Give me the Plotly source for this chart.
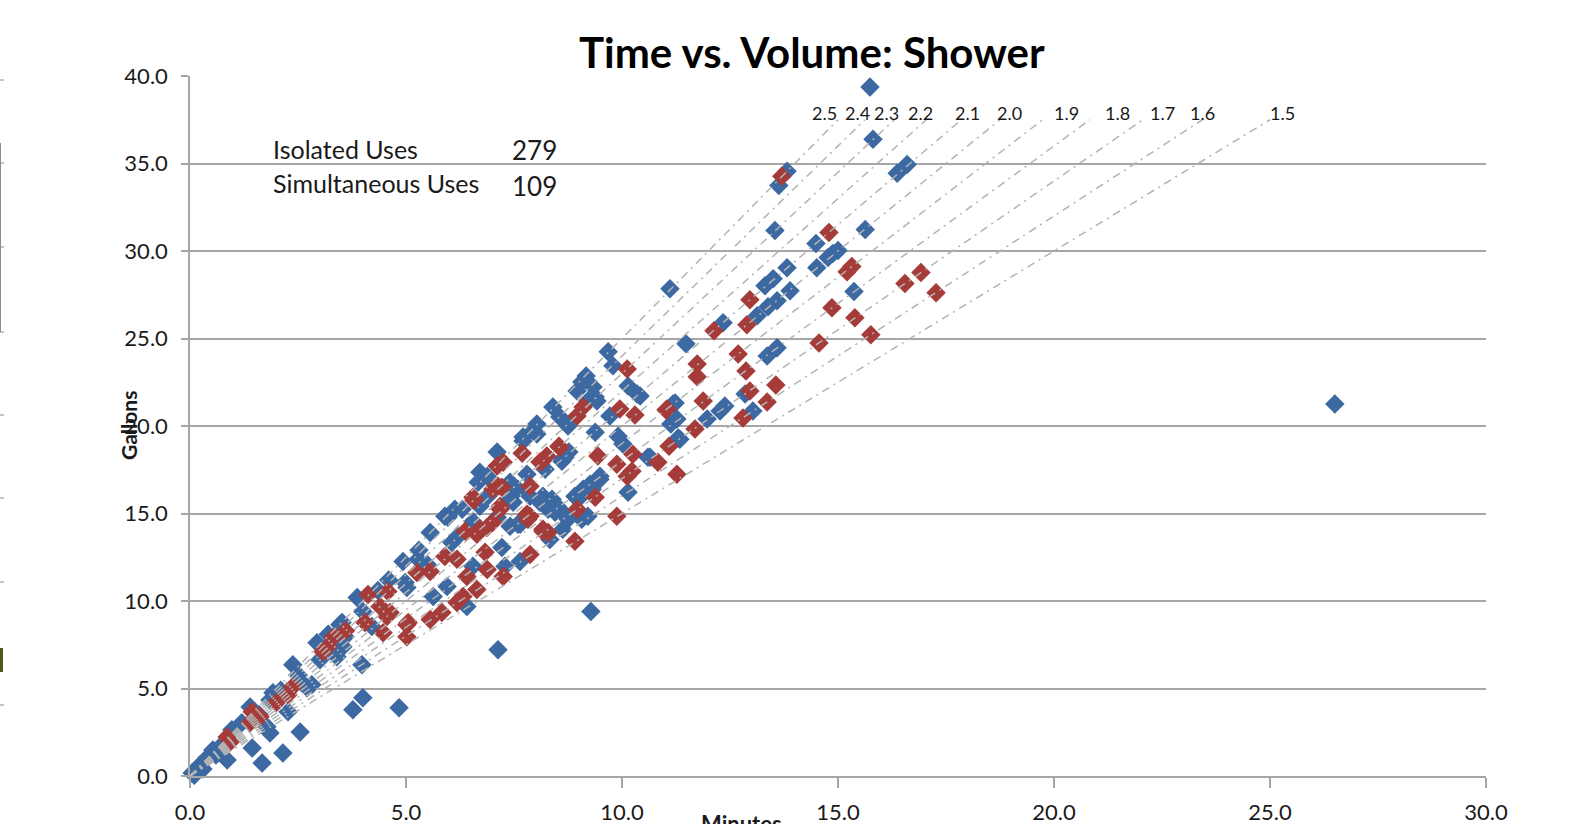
import plotly.graph_objects as go

# ---------------- data (minutes, gallons) ----------------
isolated_uses = [
    (15.74, 39.37), (15.81, 36.39), (13.82, 34.56), (13.63, 33.75), (16.60, 34.95), (16.37, 34.44),
    (13.54, 31.17), (15.63, 31.23), (14.49, 30.43), (14.88, 29.86), (15.00, 30.03), (14.77, 29.63),
    (14.51, 29.05), (13.82, 29.05), (13.50, 28.42), (13.31, 28.02), (13.89, 27.73), (15.37, 27.68),
    (13.59, 27.16), (13.38, 26.82), (13.13, 26.30), (12.34, 25.90), (11.48, 24.70), (13.59, 24.47),
    (13.36, 24.00), (12.85, 21.83), (11.23, 21.32), (11.27, 20.40), (11.13, 20.11), (12.38, 21.14),
    (12.27, 20.86), (11.97, 20.40), (13.03, 20.86), (11.30, 19.31), (10.60, 18.22), (10.42, 21.72),
    (11.11, 27.85), (9.68, 24.24), (9.79, 23.44), (9.17, 22.86), (9.07, 22.52), (8.96, 22.00),
    (9.33, 22.23), (9.38, 21.66), (10.14, 22.29), (10.35, 21.83), (8.40, 21.09), (8.56, 20.51),
    (8.75, 20.00), (9.72, 20.57), (11.18, 21.26), (8.03, 20.11), (7.94, 19.71), (7.71, 19.37),
    (9.38, 19.65), (9.91, 19.42), (10.02, 18.97), (8.77, 18.51), (8.61, 17.99), (7.11, 18.51),
    (10.65, 18.22), (11.34, 19.25), (9.49, 17.13), (9.26, 16.67), (10.14, 16.22), (9.10, 16.39),
    (8.56, 15.24), (8.75, 14.67), (9.07, 14.67), (6.71, 17.36), (7.41, 16.56), (7.80, 17.25),
    (7.87, 15.99), (7.48, 15.64), (8.10, 15.64), (8.38, 15.81), (7.64, 14.38), (8.45, 15.07),
    (8.63, 14.10), (7.71, 19.14), (8.03, 19.54), (8.63, 18.11), (6.88, 17.13), (7.41, 16.79),
    (6.71, 15.41), (7.41, 15.81), (8.17, 15.99), (8.50, 15.41), (8.98, 15.81), (5.97, 14.78),
    (6.30, 15.24), (5.56, 13.92), (6.55, 14.55), (7.11, 14.78), (7.59, 14.38), (8.33, 13.52),
    (6.06, 13.35), (7.22, 13.06), (4.93, 12.26), (5.28, 12.38), (5.49, 12.09), (4.98, 11.06),
    (6.55, 11.98), (7.29, 11.98), (7.64, 12.26), (5.95, 10.83), (6.41, 9.68), (5.63, 10.26),
    (3.87, 10.20), (4.00, 9.40), (3.52, 8.77), (5.02, 10.77), (4.21, 8.54), (3.47, 8.65),
    (3.59, 7.96), (2.94, 7.62), (3.01, 6.65), (3.40, 6.82), (3.54, 7.39), (3.98, 6.36),
    (2.38, 6.36), (2.50, 5.79), (2.59, 5.33), (2.71, 5.04), (2.82, 5.21), (1.92, 4.76),
    (1.85, 4.35), (2.27, 3.67), (1.39, 3.95), (1.20, 3.04), (1.78, 2.81), (0.97, 2.64),
    (0.74, 1.78), (0.53, 1.49), (0.86, 0.92), (0.39, 1.03), (0.23, 0.63), (0.05, 0.17),
    (0.10, 0.05), (1.44, 1.60), (1.67, 0.74), (2.15, 1.32), (2.55, 2.52), (1.85, 2.46),
    (3.77, 3.78), (4.00, 4.47), (4.84, 3.90), (7.13, 7.22), (9.28, 9.40), (26.50, 21.26),
    (9.21, 21.43), (9.42, 21.43), (8.68, 18.22), (8.22, 17.53), (9.49, 16.96), (9.31, 16.39),
    (6.67, 16.79), (5.90, 14.84), (6.13, 15.24), (7.59, 16.39), (7.41, 14.27), (8.91, 15.99),
    (9.21, 14.84), (8.29, 15.24), (3.20, 8.10), (4.60, 11.20), (4.35, 10.60), (2.10, 4.90),
    (1.60, 3.50), (0.60, 1.20), (0.30, 0.40), (5.30, 12.90), (6.20, 13.70), (6.90, 16.00),
]

simultaneous_uses = [
    (13.70, 34.27), (14.79, 31.06), (15.21, 28.82), (15.32, 29.11), (16.55, 28.14), (16.92, 28.77),
    (17.27, 27.62), (12.96, 27.22), (14.86, 26.76), (12.89, 25.79), (12.13, 25.44), (15.39, 26.19),
    (15.76, 25.21), (14.56, 24.75), (12.69, 24.12), (11.74, 23.55), (11.74, 22.81), (12.87, 23.15),
    (13.56, 22.35), (12.96, 22.00), (13.36, 21.37), (11.88, 21.43), (11.02, 20.91), (11.69, 19.83),
    (12.80, 20.46), (11.09, 18.85), (10.83, 17.93), (11.27, 17.25), (10.12, 23.26), (9.10, 21.09),
    (8.96, 20.57), (9.95, 20.97), (10.30, 20.63), (11.04, 20.97), (8.54, 18.85), (7.69, 18.45),
    (8.15, 17.99), (8.26, 18.28), (9.44, 18.28), (9.88, 17.82), (10.25, 18.39), (10.23, 17.42),
    (10.12, 17.13), (9.38, 15.93), (8.96, 15.24), (9.88, 14.84), (8.91, 13.41), (7.11, 17.71),
    (7.01, 16.39), (7.87, 16.56), (7.18, 15.24), (7.87, 14.84), (8.17, 14.10), (8.29, 13.92),
    (7.25, 17.93), (8.56, 18.79), (7.13, 16.56), (6.57, 15.76), (7.18, 15.41), (6.37, 13.98),
    (6.64, 13.81), (6.88, 14.21), (7.80, 14.96), (8.17, 13.98), (5.90, 12.55), (6.18, 12.38),
    (6.83, 12.78), (7.87, 12.66), (5.25, 11.63), (5.56, 11.69), (6.41, 11.40), (6.88, 11.80),
    (7.25, 11.40), (6.32, 10.26), (6.64, 10.66), (6.18, 9.91), (5.83, 9.34), (5.56, 8.94),
    (4.12, 10.37), (4.58, 10.54), (4.40, 9.68), (4.56, 9.11), (4.05, 8.77), (5.05, 8.77),
    (4.63, 9.34), (4.47, 8.19), (5.02, 8.65), (5.02, 7.96), (3.31, 7.91), (3.08, 7.11),
    (3.19, 7.39), (2.38, 5.10), (2.27, 4.64), (1.44, 3.67), (1.62, 3.38), (1.39, 3.04),
    (0.86, 2.23), (0.93, 1.95), (8.10, 17.94), (7.22, 16.50), (6.55, 15.93), (7.82, 14.67),
    (6.71, 14.10), (7.01, 14.50), (3.60, 8.30), (2.00, 4.20),
]

isolated_count = 279
simultaneous_count = 109

rate_lines = [2.5, 2.4, 2.3, 2.2, 2.1, 2.0, 1.9, 1.8, 1.7, 1.6, 1.5]   # gallons per minute
rate_line_top = 37.5                                                   # gallons at the top of each line
rate_label_minutes = [14.68, 15.44, 16.13, 16.90, 17.99, 18.98, 20.28, 21.46, 22.52, 23.43, 25.30]
rate_label_gallons = 37.9

x_ticks = [0, 5, 10, 15, 20, 25, 30]
y_ticks = [0, 5, 10, 15, 20, 25, 30, 35, 40]

# ---------------- styling ----------------
FONT = "Lato"
BLUE = "#3C69A2"
RED = "#A53C3A"
GRID = "#A6A6A6"
TXT = "#1a1a1a"

W, H = 1570, 824
ML, MR, MT, MB = 190, 84, 76, 48
PW, PH = W - ML - MR, H - MT - MB


def px(xp):
    return (xp - ML) / PW


def py(yp):
    return (H - MB - yp) / PH


fig = go.Figure()

fig.add_trace(go.Scatter(
    x=[p[0] for p in isolated_uses], y=[p[1] for p in isolated_uses],
    mode="markers", name="Isolated",
    marker=dict(symbol="diamond", size=15, color=BLUE, line=dict(width=0)),
    cliponaxis=False, showlegend=False,
))
fig.add_trace(go.Scatter(
    x=[p[0] for p in simultaneous_uses], y=[p[1] for p in simultaneous_uses],
    mode="markers", name="Simultaneous",
    marker=dict(symbol="diamond", size=15, color=RED, line=dict(width=0)),
    cliponaxis=False, showlegend=False,
))

for r in rate_lines:
    fig.add_trace(go.Scatter(
        x=[0, rate_line_top / r], y=[0, rate_line_top],
        mode="lines", line=dict(color="#B3B3B3", width=1.5, dash="8px,5px,2px,5px"),
        showlegend=False, hoverinfo="skip",
    ))

annotations = []
for r, lx in zip(rate_lines, rate_label_minutes):
    annotations.append(dict(
        x=lx, y=rate_label_gallons, xref="x", yref="y", text=f"{r:.1f}",
        showarrow=False, font=dict(family=FONT, size=18, color=TXT),
        xanchor="center", yanchor="middle",
    ))

annotations += [
    dict(x=px(812), y=py(52), xref="paper", yref="paper", text="<b>Time vs. Volume: Shower</b>",
         showarrow=False, font=dict(family=FONT, size=42, color="#000000"),
         xanchor="center", yanchor="middle"),
    dict(x=px(271), y=py(149), xref="paper", yref="paper", text="Isolated Uses",
         showarrow=False, font=dict(family=FONT, size=25, color=TXT), xanchor="left", yanchor="middle"),
    dict(x=px(271), y=py(183), xref="paper", yref="paper", text="Simultaneous Uses",
         showarrow=False, font=dict(family=FONT, size=25, color=TXT), xanchor="left", yanchor="middle"),
    dict(x=px(510), y=py(150), xref="paper", yref="paper", text=str(isolated_count),
         showarrow=False, font=dict(family=FONT, size=26, color=TXT), xanchor="left", yanchor="middle"),
    dict(x=px(510), y=py(186), xref="paper", yref="paper", text=str(simultaneous_count),
         showarrow=False, font=dict(family=FONT, size=26, color=TXT), xanchor="left", yanchor="middle"),
    dict(x=px(128), y=py(426), xref="paper", yref="paper", text="<b>Gallons</b>", textangle=-90,
         showarrow=False, font=dict(family=FONT, size=21, color=TXT), xanchor="center", yanchor="middle"),
    dict(x=px(741), y=py(808), xref="paper", yref="paper", text="<b>Minutes</b>",
         showarrow=False, font=dict(family=FONT, size=22, color=TXT), xanchor="center", yanchor="top"),
]

# faint remnants at the far left edge
shapes = [dict(type="line", xref="paper", yref="paper", x0=px(0.5), x1=px(0.5), y0=py(143), y1=py(332),
               line=dict(color="#8c8c8c", width=1))]
for t in [80, 163, 247, 332, 415, 498, 582, 705]:
    shapes.append(dict(type="line", xref="paper", yref="paper", x0=px(0), x1=px(4), y0=py(t), y1=py(t),
                       line=dict(color="#8c8c8c", width=1)))
shapes.append(dict(type="rect", xref="paper", yref="paper", x0=px(0), x1=px(3), y0=py(672), y1=py(648),
                   fillcolor="#4d5a1e", line=dict(width=0)))

fig.update_layout(
    width=W, height=H, autosize=False,
    margin=dict(l=ML, r=MR, t=MT, b=MB, pad=0),
    paper_bgcolor="white", plot_bgcolor="white",
    font=dict(family=FONT, color=TXT),
    annotations=annotations, shapes=shapes,
    xaxis=dict(range=[0, 30], tickvals=x_ticks, tickformat=".1f", showgrid=False,
               showline=True, linecolor=GRID, linewidth=1.5,
               ticks="outside", ticklen=10, tickcolor=GRID, tickwidth=1.5,
               tickfont=dict(family=FONT, size=22, color=TXT), ticklabelstandoff=6,
               zeroline=False, fixedrange=True, automargin=False),
    yaxis=dict(range=[0, 40], tickvals=y_ticks, tickformat=".1f", showgrid=True,
               gridcolor=GRID, gridwidth=1.5,
               showline=True, linecolor=GRID, linewidth=1.5,
               ticks="outside", ticklen=7, tickcolor=GRID, tickwidth=1.5,
               tickfont=dict(family=FONT, size=22, color=TXT), ticklabelstandoff=9,
               zeroline=False, fixedrange=True, automargin=False),
)

fig.write_html(
    "out.html",
    config={"displayModeBar": False},
    post_script=(
        "document.documentElement.style.margin='0';document.documentElement.style.overflow='hidden';"
        "document.body.style.margin='0';document.body.style.padding='0';document.body.style.overflow='hidden';"
    ),
)
